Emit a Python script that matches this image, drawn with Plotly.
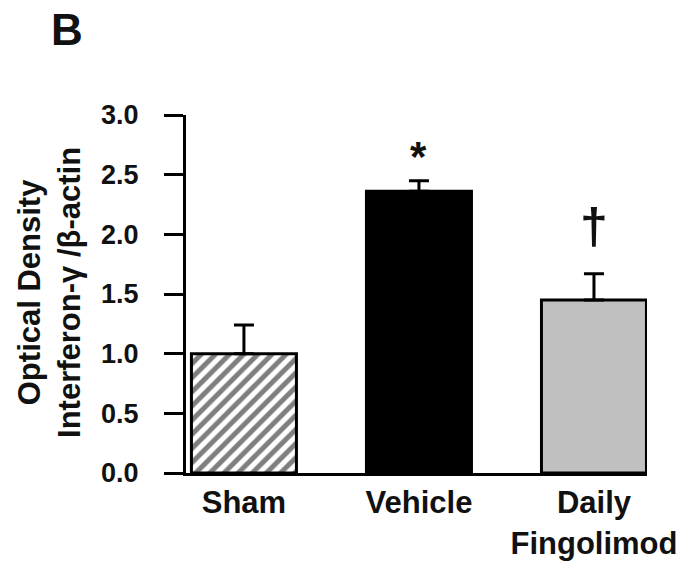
import plotly.graph_objects as go

# Interferon-gamma / beta-actin optical density by treatment group
groups = ["Sham", "Vehicle", "Daily<br>Fingolimod"]
means = [1.00, 2.36, 1.45]
sem = [0.24, 0.09, 0.22]
sig_marks = ["", "*", "†"]
sig_heights = [None, 2.65, 2.07]
y_ticks = [0.0, 0.5, 1.0, 1.5, 2.0, 2.5, 3.0]

FONT = "Liberation Sans, Arial, sans-serif"
INK = "#111111"
x_pos = list(range(len(groups)))

fig = go.Figure()

fills = ["white", "black", "#c0c0c0"]
patterns = [dict(shape="/", fgcolor="black", bgcolor="white", size=10, solidity=0.5),
            dict(shape=""), dict(shape="")]

for i in x_pos:
    fig.add_trace(go.Bar(
        x=[x_pos[i]], y=[means[i]], width=0.6,
        marker=dict(color=fills[i], line=dict(color="black", width=3), pattern=patterns[i]),
        error_y=dict(type="data", symmetric=False, array=[sem[i]], arrayminus=[0],
                     color="black", thickness=3, width=10),
        showlegend=False,
    ))

# significance markers above the bars
for i in x_pos:
    if sig_marks[i]:
        fig.add_annotation(x=x_pos[i], y=sig_heights[i], text="<b>%s</b>" % sig_marks[i],
                           showarrow=False, xanchor="center", yanchor="middle",
                           font=dict(family=FONT, size=42 if sig_marks[i] == "*" else 50, color=INK))

# y-axis title as a two-line rotated label
fig.add_annotation(xref="paper", yref="paper", x=-0.295, y=0.503,
                   text="<b>Optical Density<br>Interferon-γ /β-actin</b>",
                   textangle=-90, showarrow=False, xanchor="center", yanchor="middle",
                   font=dict(family=FONT, size=31, color=INK))

# panel letter
fig.add_annotation(xref="paper", yref="paper", x=-0.258, y=1.238, text="<b>B</b>",
                   showarrow=False, xanchor="center", yanchor="middle",
                   font=dict(family=FONT, size=44, color=INK))

fig.update_layout(
    width=687, height=563,
    margin=dict(l=186, r=40, t=115, b=90, autoexpand=False),
    paper_bgcolor="white", plot_bgcolor="white",
    bargap=0.4,
    font=dict(family=FONT, color=INK),
)

fig.update_xaxes(
    range=[-0.331, 2.303], tickvals=x_pos, ticktext=["<b>%s</b>" % g for g in groups],
    showline=True, linecolor="black", linewidth=3, ticks="", showgrid=False, zeroline=False,
    tickfont=dict(family=FONT, size=31, color=INK), automargin=False,
)
fig.update_yaxes(
    range=[0, 3], tickvals=y_ticks, ticktext=["<b>%.1f</b>" % v for v in y_ticks],
    showline=True, linecolor="black", linewidth=3, ticks="outside", ticklen=19,
    tickwidth=3, tickcolor="black", showgrid=False, zeroline=False,
    tickfont=dict(family=FONT, size=27, color=INK), ticklabelstandoff=20, automargin=False,
)

fig.write_html("out.html")
